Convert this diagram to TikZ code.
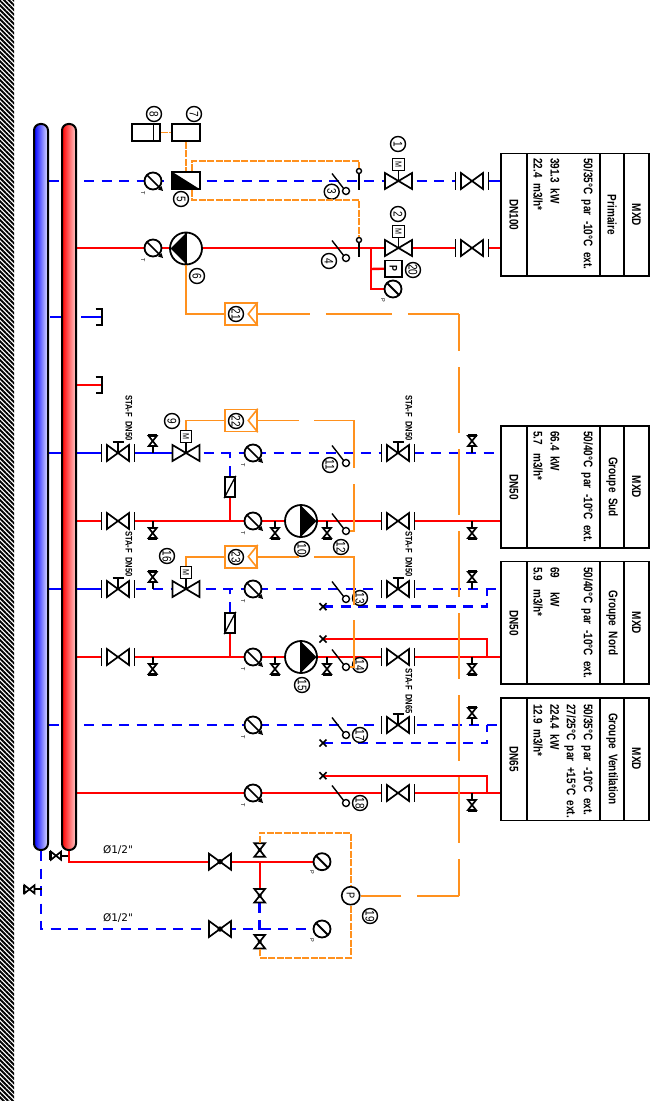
\documentclass[tikz,border=0pt]{standalone}
\usepackage{fontspec}
\setmainfont{Liberation Sans}
\newfontfamily\cadfont[FakeStretch=0.8]{Liberation Sans}
\newfontfamily\labfont{DejaVu Sans}
\usepackage{tikz}
\usetikzlibrary{calc}
\usetikzlibrary{patterns.meta, arrows.meta}
\definecolor{orng}{RGB}{255,145,30}
\pgfdeclarelayer{pipes}
\pgfsetlayers{pipes,main}

\tikzset{
  blk/.style={black, line width=1.7pt},
  hot/.style={red, line width=2.4pt},
  cold/.style={blue, line width=2.5pt, dash pattern=on 10pt off 7.5pt},
  coldfull/.style={blue, line width=2.5pt},
  osig/.style={orng, line width=1.6pt},
  odash/.style={osig, dash pattern=on 7pt off 1.5pt},
  coll/.style={draw=black, line width=2pt, rounded corners=6.5pt, minimum width=14pt, minimum height=726pt, inner sep=0pt},
  obox/.style={draw=orng, line width=1.6pt, minimum width=32pt, minimum height=22pt, inner sep=0pt},
  bbox/.style={draw=black, line width=1.7pt, fill=white, inner sep=0pt},
  num/.style={circle, draw=black, line width=1.4pt, fill=white, minimum size=15pt, inner sep=0pt, rotate=-90, font=\cadfont\fontsize{12.5}{12.5}\selectfont},
  dat/.style={rotate=-90, anchor=west, inner sep=0pt, font=\cadfont\bfseries\fontsize{12.5}{12.5}\selectfont},
  lab/.style={rotate=-90, inner sep=0pt, font=\cadfont\bfseries\fontsize{12.5}{12.5}\selectfont},
  sta/.style={rotate=-90, anchor=west, inner sep=0pt, font=\cadfont\bfseries\fontsize{9.5}{9.5}\selectfont},
  tiny/.style={rotate=-90, inner sep=0pt, font=\fontsize{5.5}{5.5}\selectfont},
  pinhead/.style={circle, draw=black, line width=1.4pt, fill=white, minimum size=5pt, inner sep=0pt},
  pics/valve/.style={code={
    \coordinate (-c) at (0,0);
    \fill[white] (-16,-3) rectangle (16,3);
    \draw[blk] (-16.5,-9) -- (-16.5,9) (16.5,-9) -- (16.5,9);
    \draw[blk, fill=white] (-11,-8) -- (11,8) -- (11,-8) -- (-11,8) -- cycle;
  }},
  pics/hvalve/.style={code={
    \coordinate (-c) at (0,0);
    \fill[white] (-16,-3) rectangle (16,3);
    \draw[blk] (-16.5,-9) -- (-16.5,9) (16.5,-9) -- (16.5,9);
    \draw[blk, fill=white] (-11,-8) -- (11,8) -- (11,-8) -- (-11,8) -- cycle;
    \draw[blk] (0,0) -- (0,-11) (-5.5,-11) -- (5.5,-11);
  }},
  pics/mvalve/.style={code={
    \coordinate (-c) at (0,0);
    \draw[blk, fill=white] (-13.5,-8) -- (13.5,8) -- (13.5,-8) -- (-13.5,8) -- cycle;
    \draw[blk] (0,0) -- (0,-11);
    \node[bbox, line width=1.3pt, minimum size=11.5pt, rotate=-90, font=\cadfont\fontsize{9}{9}\selectfont] (-m) at (0,-16.5) {M};
  }},
  pics/dvalve/.style={code={
    \node[minimum width=22pt, minimum height=16pt, inner sep=0pt] (-c) at (0,0) {};
    \draw[blk, fill=white] (-11,-8) -- (11,8) -- (11,-8) -- (-11,8) -- cycle;
    \fill (0,0) circle (2.7);
  }},
  pics/svalve/.style={code={
    \node[minimum width=11pt, minimum height=14pt, inner sep=0pt] (-c) at (0,0) {};
    \draw[blk, fill=white] (-5.3,-6.7) -- (5.3,6.7) -- (-5.3,6.7) -- (5.3,-6.7) -- cycle;
    \fill (0,0) circle (2);
  }},
  pics/tapv/.style={code={
    \coordinate (-c) at (0,0);
    \draw[blk] (0,0) -- (0,7);
    \draw[blk, fill=white] (-4,7) -- (4,17) -- (-4,17) -- (4,7) -- cycle;
    \fill (-4.5,16.5) rectangle (4.5,18.7);
  }},
  pics/gauge/.style={code={
    \node[circle, draw=black, line width=1.8pt, fill=white, minimum size=17pt, inner sep=0pt] (-c) at (0,0) {};
    \draw[black, line width=2pt] (-5.5,-5.5) -- (6,6);
    \node[tiny] (-t) at (-10,11) {#1};
  }},
  pics/sensor/.style={code={
    \node[circle, draw=black, line width=1.8pt, fill=white, minimum size=17pt, inner sep=0pt] (-c) at (0,0) {};
    \draw[black, line width=1.7pt] (-6,-6) -- (7,7);
    \fill (10,10) -- (5,8.5) -- (8.5,5) -- cycle;
    \node[tiny] (-t) at (-10,12) {T};
  }},
  pics/pump/.style={code={
    \node[circle, draw=black, line width=1.8pt, fill=white, minimum size=32pt, inner sep=0pt] (-c) at (0,0) {};
    \fill (0,-15.5) -- (#1,0) -- (0,15.5) -- cycle;
    \draw[blk, line width=1.2pt] (0,-16) -- (0,16);
  }},
  pics/flowsw/.style={code={
    \draw[blk, line width=1.4pt] (-7,-7.5) -- (5,8);
    \node[pinhead, minimum size=7pt] (-b) at (7,10) {};
  }},
  pics/xcap/.style={code={
    \coordinate (-c) at (0,0);
    \draw[blk] (-3.5,-3.5) -- (3.5,3.5) (-3.5,3.5) -- (3.5,-3.5);
  }},
  pics/bcap/.style={code={
    \coordinate (-c) at (0,0);
    \draw[blk] (-6,-8) -- (0,-8) -- (0,8) -- (-6,8);
  }}
}

\begin{document}
\begin{tikzpicture}[x=1pt, y=-1pt]

\useasboundingbox (0,0) rectangle (652,1102);

% Wall
\fill[pattern={Lines[angle=-45, distance=3.3pt, line width=1.9pt]}, pattern color=black] (0,0) rectangle (14,1100);

% Collectors
\node[coll, left color=blue, right color=blue!12] (collB) at (41,487) {};
\node[coll, left color=red, right color=red!20] (collR) at (69,487) {};

% Group boxes
\foreach \g/\t/\b in {P/153.3/276, S/426/548, N/561.7/684, V/698/820.7} {
  \node[bbox, fill=none, minimum width=148pt, minimum height=122.5pt] (box\g) at (575,{(\t+\b)/2}) {};
  \draw[blk] (526.7,\t) -- (526.7,\b) (600,\t) -- (600,\b) (624,\t) -- (624,\b);
}
\node[lab] (dnP) at (514,215) {DN100};
\node[lab] (dnS) at (514,487) {DN50};
\node[lab] (dnN) at (514,623) {DN50};
\node[lab] (dnV) at (514,759) {DN65};
\node[lab] (nameP) at (612,215) {Primaire};
\node[lab] (nameS) at (612,487) {Groupe~~Sud};
\node[lab] (nameN) at (612,623) {Groupe~~Nord};
\node[lab] (nameV) at (612,759) {Groupe~~Ventilation};
\node[lab] (mxdP) at (636.5,215) {MXD};
\node[lab] (mxdS) at (636.5,487) {MXD};
\node[lab] (mxdN) at (636.5,623) {MXD};
\node[lab] (mxdV) at (636.5,759) {MXD};
\node[dat] (txP1) at (587,158) {50/35°C~~par~~-10°C~~ext.};
\node[dat] (txP2) at (555,158) {391.3~~kW};
\node[dat] (txP3) at (538,158) {22.4~~m3/h*};
\node[dat] (txS1) at (587,431) {50/40°C~~par~~-10°C~~ext.};
\node[dat] (txS2) at (555,431) {66.4~~kW};
\node[dat] (txS3) at (538,431) {5.7~~~m3/h*};
\node[dat] (txN1) at (587,567) {50/40°C~~par~~-10°C~~ext.};
\node[dat] (txN2) at (555,567) {69~~~~~kW};
\node[dat] (txN3) at (538,567) {5.9~~~m3/h*};
\node[dat] (txV1) at (587,704) {50/35°C~~par~~-10°C~~ext.};
\node[dat] (txV2) at (570,704) {27/25°C~~par~~+15°C~~ext.};
\node[dat] (txV3) at (555,704) {224.4~~kW};
\node[dat] (txV4) at (538,704) {12.9~~m3/h*};

\node[sta] (staA) at (129,395) {STA-F~~DN50};
\node[sta] (staB) at (409,395) {STA-F~~DN50};
\node[sta] (staC) at (129,531) {STA-F~~DN50};
\node[sta] (staD) at (409,531) {STA-F~~DN50};
\node[sta] (staE) at (409,668) {STA-F~~DN65};

% Valves
\foreach \n/\x/\y in {Pb/472/181, Pr/472/248, Sr/118/521, Nr/118/657, Srr/398/521, Nrr/398/657, Vrr/398/793}
  \pic (v\n) at (\x,\y) {valve};
\foreach \n/\x/\y in {Sb/118/453, Nb/118/589, Sbb/398/453, Nbb/398/589, Vbb/398/725}
  \pic (v\n) at (\x,\y) {hvalve};
\foreach \n/\x/\y in {1/398.5/181, 2/398.5/248, 9/186/453, 16/186/589}
  \pic (mv\n) at (\x,\y) {mvalve};

% Sensors and pumps
\foreach \n/\x/\y in {Pb/153/181, Pr/153/248, Sb/253/453, Sr/253/521, Nb/253/589, Nr/253/657, Vb/253/725, Vr/253/793}
  \pic (s\n) at (\x,\y) {sensor};
\pic (g20) at (393,289) {gauge=P};
\pic (gR) at (322,861.7) {gauge=P};
\pic (gB) at (322,929) {gauge=P};
\pic (p6) at (186,248.5) {pump=-15.5};
\pic (p10) at (301,521) {pump=15.5};
\pic (p15) at (301,657) {pump=15.5};

% Flow switches
\foreach \n/\y in {3/181, 4/248, 11/453, 12/521, 13/589, 14/657, 17/725, 18/793}
  \pic (sw\n) at (339,\y) {flowsw};
\node[pinhead] (pin3) at (359,171) {};
\node[pinhead] (pin4) at (359,240) {};
\draw[blk, line width=1.4pt] (pin3.south) -- +(0,16);
\draw[blk, line width=1.4pt] (pin4.south) -- +(0,14);

% Taps
\foreach \n/\x/\y in {A/472/521, B/472/657, C/472/793, D/152.7/521, E/152.7/657, F/275/521, G/327/521, H/275/657, I/327/657}
  \pic (t\n) at (\x,\y) {tapv};
\foreach \n/\x/\y in {J/472/453, K/472/589, L/472/725, M/152.7/453, N/152.7/589}
  \pic[rotate=180] (t\n) at (\x,\y) {tapv};
\pic[rotate=-90] (tR) at (68,855.7) {tapv};
\pic[rotate=-90] (tB) at (41.5,889.3) {tapv};

% Ends of the spare branches
\pic (capB) at (101.7,317) {bcap};
\pic (capR) at (101.7,385) {bcap};
\foreach \n/\y in {Nb/606.7, Nr/639, Vb/743, Vr/775.7}
  \pic (x\n) at (323,\y) {xcap};
\coordinate (jNb) at (487,589);
\coordinate (jNr) at (487,657);
\coordinate (jVb) at (487,725);
\coordinate (jVr) at (487,793);

% Strainers
\node[bbox, minimum width=10pt, minimum height=20.5pt] (st1) at (230,487) {};
\node[bbox, minimum width=10pt, minimum height=20.5pt] (st2) at (230,623) {};
\draw[blk, line width=1.3pt] (st1.south west) -- (st1.north east);
\draw[blk, line width=1.3pt] (st2.south west) -- (st2.north east);

% Control boxes
\node[bbox, minimum width=28pt, minimum height=17pt] (hm5) at (186,180.5) {};
\fill (hm5.north west) -- (hm5.south west) -- (hm5.south east) -- cycle;
\node[bbox, minimum width=28pt, minimum height=17pt] (b7) at (186,132.5) {};
\node[bbox, minimum width=28pt, minimum height=17pt] (b8) at (146,132.5) {};
\draw[blk] ($(b8.north east)+(-7.3,0)$) -- ($(b8.south east)+(-7.3,0)$);
\node[bbox, minimum width=16.5pt, minimum height=17pt, rotate=-90, font=\cadfont\bfseries\fontsize{11}{11}\selectfont] (b20) at (393.3,268.7) {P};

% Draining line
\pic (dvR) at (220,861.7) {dvalve};
\pic (dvB) at (220,929) {dvalve};
\pic (sv1) at (259.7,850) {svalve};
\pic (sv2) at (259.7,895.7) {svalve};
\pic (sv3) at (259.7,941.7) {svalve};
\node[circle, draw=black, line width=1.6pt, fill=white, minimum size=18pt, inner sep=0pt, rotate=-90, font=\cadfont\fontsize{11.5}{11.5}\selectfont] (p19) at (350.7,895.7) {P};
\node[font=\labfont\fontsize{10.5}{10.5}\selectfont, inner sep=0pt] (dia1) at (118,850) {Ø1/2"};
\node[font=\labfont\fontsize{10.5}{10.5}\selectfont, inner sep=0pt] (dia2) at (118,918) {Ø1/2"};

% Pipes, under everything
\begin{pgfonlayer}{pipes}
\draw[cold] (collB.east |- vPb-c) -- (vPb-c);
\draw[coldfull] (vPb-c) -- (boxP.west |- vPb-c);
\draw[hot] (collR.east |- vPr-c) -- (boxP.west |- vPr-c);

\draw[cold, dash pattern=on 21pt off 10pt] (capB-c) -- (collB.east |- capB-c);
\draw[hot] (collR.east |- capR-c) -- (capR-c);

\draw[coldfull] (collB.east |- vSb-c) -- (vSb-c);
\draw[coldfull] (vSb-c) -- (mv9-c);
\draw[cold] (mv9-c) -- (boxS.west |- mv9-c);
\draw[hot] (collR.east |- vSr-c) -- (boxS.west |- vSr-c);

\draw[coldfull] (collB.east |- vNb-c) -- (vNb-c);
\draw[cold] (vNb-c) -- (boxN.west |- vNb-c);
\draw[hot] (collR.east |- vNr-c) -- (boxN.west |- vNr-c);

\draw[cold] (collB.east |- vVbb-c) -- (boxV.west |- vVbb-c);
\draw[hot] (collR.east |- vVrr-c) -- (boxV.west |- vVrr-c);

\draw[cold] (xNb-c) -| (jNb);
\draw[hot] (xNr-c) -| (jNr);
\draw[cold] (xVb-c) -| (jVb);
\draw[hot] (xVr-c) -| (jVr);

\draw[cold] (st1.north) -- (st1.north |- mv9-c);
\draw[hot] (st1.south) -- (st1.south |- vSr-c);
\draw[cold] (st2.north) -- (st2.north |- mv16-c);
\draw[hot] (st2.south) -- (st2.south |- vNr-c);

\draw[hot] (370.7,248) |- (g20-c);
\draw[hot] (370.7,269) -- (b20.south);

\draw[hot] (collR.south) |- (gR-c);
\draw[cold] (collB.south) |- (gB-c);
\draw[hot] (sv1-c |- gR-c) -- (sv2-c);
\draw[cold] (sv2-c) -- (sv3-c);
\end{pgfonlayer}

% Item numbers
\foreach \n/\x/\y in {1/398/144, 2/398/214, 3/331.7/191.7, 4/329/261, 5/181/199, 6/197/276, 7/194/114, 8/154/114,
  9/172/421, 10/302/549, 11/330/465, 12/341/547, 13/360/598, 14/360/665, 15/302/685, 16/167/556, 17/360/735, 18/360/803,
  19/370/916, 20/413/270, 21/236/314, 22/236/421, 23/236/557}
  \node[num] (c\n) at (\x,\y) {\n};

% Orange boxes
\foreach \n/\y in {21/314, 22/420.5, 23/556.7} {
  \node[obox] (b\n) at (241,\y) {};
  \draw[osig] (b\n.north east) -- ($(b\n.east)+(-9.5,0)$) -- (b\n.south east);
}

% Signal lines
\draw[odash] (b8.east) -- (b7.west);
\draw[odash] (b7.south) -- (hm5.north);
\draw[odash] ($(hm5.north)+(6,0)$) |- (359,161) -- (pin3.north);
\draw[odash] ($(hm5.south)+(6,0)$) |- (359,200) -- (pin4.north);
\draw[osig] (p6-c.south) |- (b21.west);

\coordinate (kA) at (459,314);
\coordinate (kB) at (459,896);
\draw[osig, dash pattern=on 66pt off 16pt, dash phase=14pt] (b21.east) -- (kA);
\draw[osig, dash pattern=on 66pt off 16pt, dash phase=29pt] (kA) -- (kB);
\draw[osig, dash pattern=on 66pt off 16pt, dash phase=24pt] (kB) -- (kB -| p19.north);

\draw[osig] (mv9-m.west) |- (b22.west);
\draw[osig, dash pattern=on 41pt off 16pt] (b22.east) -- (314,420.5);
\draw[osig] (314,420.5) -| (354,468);
\draw[osig] (354,484) |- (sw12-b.east);
\draw[osig] (mv16-m.west) |- (b23.west);
\draw[osig, dash pattern=on 41pt off 16pt] (b23.east) -- (314,556.7);
\draw[osig] (314,556.7) -| (354,605);
\draw[osig] (354,620) |- (sw14-b.east);

\coordinate (oT) at (350.7,832.7);
\coordinate (oB) at (350.7,957.7);
\draw[odash] (sv1-c.north) |- (oT) -- (p19.west);
\draw[odash] (p19.east) -- (oB) -| (sv3-c.south);

\end{tikzpicture}
\end{document}
